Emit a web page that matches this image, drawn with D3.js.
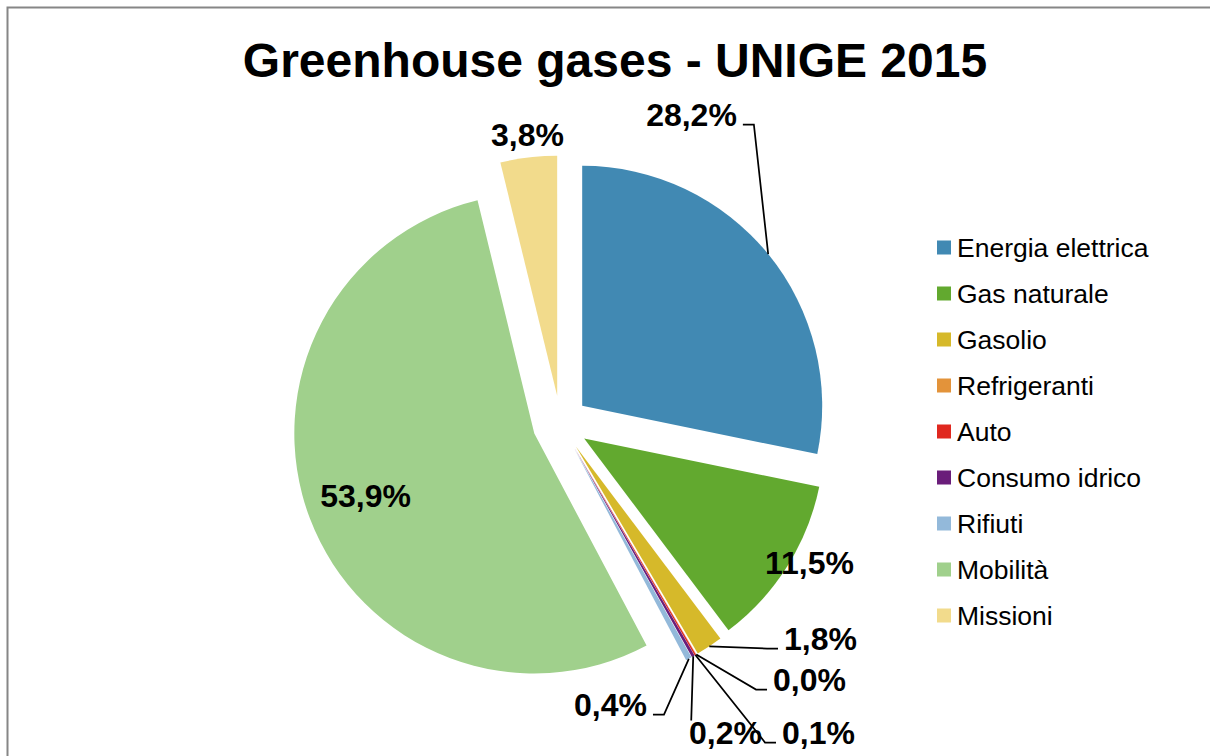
<!DOCTYPE html>
<html>
<head>
<meta charset="utf-8">
<script src="https://cdn.jsdelivr.net/npm/d3@7"></script>
<style>
  body { margin: 0; background: #fff; }
  svg { display: block; font-family: "Liberation Sans", Arial, sans-serif; }
</style>
</head>
<body>
<div id="chart"></div>
<script>
// dati
const categories = ["Energia elettrica", "Gas naturale", "Gasolio", "Refrigeranti", "Auto",
    "Consumo idrico", "Rifiuti", "Mobilità", "Missioni"];
const values = [28.2, 11.5, 1.8, 0.02, 0.1, 0.2, 0.4, 53.9, 3.8];
const colors = ["#4189b3", "#62a92f", "#d6b92a", "#e3933a", "#e0281f",
    "#6a1d7a", "#93b9da", "#a0d08c", "#f2db8c"];
const title = "Greenhouse gases - UNIGE 2015";

// layout etichette (posizione testo rispetto al centro torta, lato del leader)
const labelLayout = [
    { dx: 131, dy: -298, side: "right" },
    { dx: 249, dy: 150, side: null },
    { dx: 260, dy: 226, side: "left" },
    { dx: 249, dy: 267, side: "left" },
    { dx: 258, dy: 320, side: "left" },
    { dx: 165, dy: 320, side: "top" },
    { dx: 50, dy: 292, side: "right" },
    { dx: -195, dy: 83, side: null },
    { dx: -33, dy: -278, side: null }
];

const W = 1210, H = 756;
const cx = 560.5, cy = 423.5, radius = 240, explode = 28;

const svg = d3.select("#chart").append("svg")
    .attr("width", W)
    .attr("height", H);

// bordo del grafico
svg.append("rect")
    .attr("x", 7.5).attr("y", 7.5)
    .attr("width", W + 20).attr("height", H + 20)
    .attr("fill", "none")
    .attr("stroke", "#868686")
    .attr("stroke-width", 2);

svg.append("text")
    .attr("x", 615).attr("y", 77)
    .attr("text-anchor", "middle")
    .attr("font-size", 48)
    .attr("font-weight", "bold")
    .text(title);

const rows = categories.map((c, i) => ({ name: c, value: values[i], color: colors[i], lay: labelLayout[i] }));

const pie = d3.pie().sort(null).value(d => d.value);
const arc = d3.arc().innerRadius(0).outerRadius(radius);
const arcs = pie(rows);

const g = svg.append("g").attr("transform", `translate(${cx},${cy})`);

const off = d => {
    const a = (d.startAngle + d.endAngle) / 2;
    return [explode * Math.sin(a), -explode * Math.cos(a)];
};

g.selectAll("path.slice")
    .data(arcs)
    .enter().append("path")
    .attr("class", "slice")
    .attr("d", arc)
    .attr("transform", d => `translate(${off(d)})`)
    .attr("fill", d => d.data.color);

// etichette percentuali
const fmt = v => d3.format(".1f")(v).replace(".", ",") + "%";
const fs = 32;

const labels = g.selectAll("g.lab")
    .data(arcs)
    .enter().append("g")
    .attr("class", "lab");

labels.append("text")
    .attr("x", d => d.data.lay.dx)
    .attr("y", d => d.data.lay.dy)
    .attr("text-anchor", "middle")
    .attr("font-size", fs)
    .attr("font-weight", "bold")
    .attr("fill", "#000")
    .text(d => fmt(d.data.value));

// linee guida
labels.each(function(d) {
    const lay = d.data.lay;
    if (!lay.side) return;
    const t = d3.select(this).select("text").node().getBBox();
    const a = (d.startAngle + d.endAngle) / 2;
    const o = off(d);
    const anchor = [o[0] + radius * Math.sin(a), o[1] - radius * Math.cos(a)];
    let pts;
    if (lay.side === "right") {
        const end = [t.x + t.width + 6, lay.dy - 1];
        pts = [end, [end[0] + 11, end[1]], anchor];
    } else if (lay.side === "left") {
        const end = [t.x - 6, lay.dy - 1];
        pts = [end, [end[0] - 11, end[1]], anchor];
    } else {
        const end = [anchor[0] - 2, t.y + 6];
        pts = [end, anchor];
    }
    d3.select(this).insert("path", "text")
        .attr("d", d3.line()(pts))
        .attr("fill", "none")
        .attr("stroke", "#000")
        .attr("stroke-width", 1.75);
});

// legenda
const legend = svg.append("g").attr("transform", "translate(937,247.5)");
const item = legend.selectAll("g")
    .data(rows)
    .enter().append("g")
    .attr("transform", (d, i) => `translate(0,${i * 46})`);

item.append("rect")
    .attr("x", 0).attr("y", -7)
    .attr("width", 14).attr("height", 14)
    .attr("fill", d => d.color);

item.append("text")
    .attr("x", 20).attr("y", 9)
    .attr("font-size", 26.5)
    .text(d => d.name);
</script>
</body>
</html>
